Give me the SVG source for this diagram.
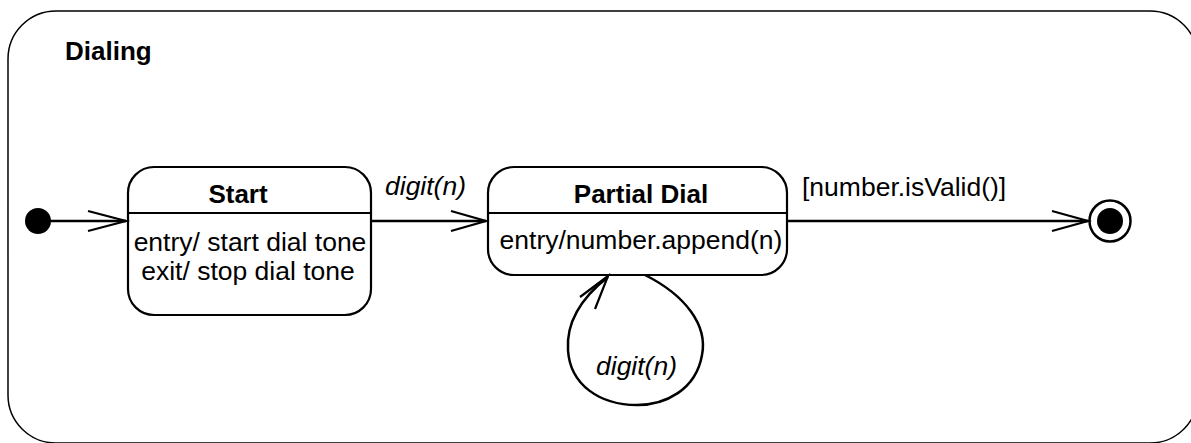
<svg xmlns="http://www.w3.org/2000/svg" width="1191" height="443" viewBox="0 0 1191 443">
<style>
text{font-family:"Liberation Sans",Arial,sans-serif;font-size:26.5px;fill:#000}
.b{font-weight:bold;font-size:26px}
.i{font-style:italic}
.box{fill:#fff;stroke:#000;stroke-width:2.2}
.ln{fill:none;stroke:#000;stroke-width:2.5}
.ah{fill:none;stroke:#000;stroke-width:2.2}
</style>
<rect width="1191" height="443" fill="#fff"/>
<g id="dialing">
<rect x="8" y="11" width="1190" height="432" rx="48" ry="48" fill="none" stroke="#000" stroke-width="1.5"/>
<text class="b" x="65" y="60">Dialing</text>
</g>
<g id="initial">
<circle cx="38" cy="221" r="13" fill="#000"/>
</g>
<g id="start">
<rect class="box" x="128" y="167" width="243" height="148" rx="26" ry="26"/>
<line x1="128" y1="213" x2="371" y2="213" stroke="#000" stroke-width="2"/>
<text class="b" x="238" y="203" text-anchor="middle">Start</text>
<text x="250" y="251" text-anchor="middle">entry/ start dial tone</text>
<text x="248" y="280" text-anchor="middle">exit/ stop dial tone</text>
</g>
<g id="partial">
<rect class="box" x="488" y="167" width="299" height="108" rx="26" ry="26"/>
<line x1="488" y1="213" x2="787" y2="213" stroke="#000" stroke-width="2"/>
<text class="b" x="641" y="203" text-anchor="middle">Partial Dial</text>
<text x="641" y="249" text-anchor="middle">entry/number.append(n)</text>
</g>
<g id="final">
<circle cx="1110" cy="221" r="20.5" fill="#fff" stroke="#000" stroke-width="2.5"/>
<circle cx="1110" cy="221" r="13" fill="#000"/>
</g>
<g id="connectors">
<line class="ln" x1="38" y1="221" x2="126" y2="221"/>
<polyline class="ah" points="88,211 126,221 88,231"/>
<line class="ln" x1="371" y1="221" x2="486" y2="221"/>
<polyline class="ah" points="451,211 486,221 451,231"/>
<text class="i" x="385" y="195">digit(n)</text>
<line class="ln" x1="787" y1="221" x2="1088" y2="221"/>
<polyline class="ah" points="1052,211 1088,221 1052,231"/>
<text x="802" y="196">[number.isValid()]</text>
<path class="ln" d="M645,275 C685,295 708,325 702,355 C696,390 665,405 637,405 C600,405 570,385 568,350 C566,320 585,295 608,277"/>
<polyline class="ah" points="580,297 608,276 595,309"/>
<text class="i" x="596" y="375">digit(n)</text>
</g>
</svg>
